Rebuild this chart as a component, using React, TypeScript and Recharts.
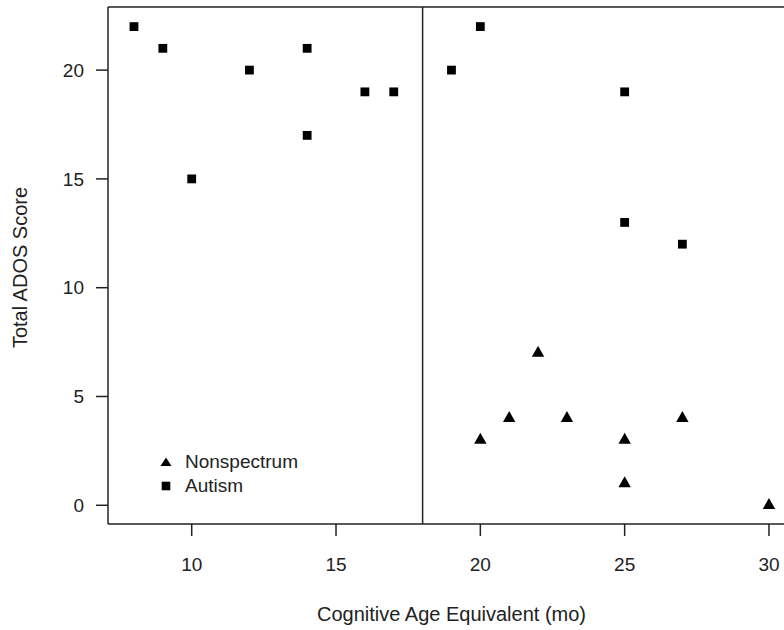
import React from 'react';
import {
  ScatterChart,
  Scatter,
  XAxis,
  YAxis,
  ReferenceLine,
  Legend,
  Label
} from 'recharts';

// Autism group
const autismAge = [8, 9, 10, 12, 14, 14, 16, 17, 19, 20, 25, 25, 27];
const autismScore = [22, 21, 15, 20, 21, 17, 19, 19, 20, 22, 19, 13, 12];

// Nonspectrum group
const nonAge = [20, 21, 22, 23, 25, 25, 27, 30];
const nonScore = [3, 4, 7, 4, 3, 1, 4, 0];

const xTicks = [10, 15, 20, 25, 30];
const yTicks = [0, 5, 10, 15, 20];
const X_DOMAIN: [number, number] = [7.1, 31.2];
const Y_DOMAIN: [number, number] = [-0.86, 22.9];
const CUTOFF = 18;

const autismData = autismAge.map((x, i) => ({ x, y: autismScore[i] }));
const nonData = nonAge.map((x, i) => ({ x, y: nonScore[i] }));

const FONT = '"Liberation Sans", Arial, Helvetica, sans-serif';
const INK = '#222';

const SquareDot = (props: any) => {
  const { cx, cy } = props;
  if (cx == null || cy == null) return null;
  return <rect x={cx - 4.4} y={cy - 4.4} width={8.8} height={8.8} fill="#000" />;
};

const TriangleDot = (props: any) => {
  const { cx, cy } = props;
  if (cx == null || cy == null) return null;
  const pts = `${cx - 6.2},${cy + 3.8} ${cx + 6.2},${cy + 3.8} ${cx},${cy - 7.2}`;
  return <polygon points={pts} fill="#000" />;
};

const LegendBox = () => (
  <div style={{ fontFamily: FONT, fontSize: 19, color: INK }}>
    <div style={{ display: 'flex', alignItems: 'center', height: 24 }}>
      <svg width={12} height={12}>
        <polygon points="0.5,10 11.5,10 6,1.5" fill="#000" />
      </svg>
      <span style={{ marginLeft: 13 }}>Nonspectrum</span>
    </div>
    <div style={{ display: 'flex', alignItems: 'center', height: 24 }}>
      <svg width={12} height={12}>
        <rect x={1.7} y={1.7} width={8.6} height={8.6} fill="#000" />
      </svg>
      <span style={{ marginLeft: 13 }}>Autism</span>
    </div>
  </div>
);

export default function App() {
  return (
    <div style={{ position: 'absolute', left: 0, top: 0, width: 784, height: 630, overflow: 'hidden', background: '#fff' }}>
      <ScatterChart width={810} height={630} margin={{ top: 7, right: 6.4, bottom: 0, left: 0 }}>
        <XAxis
          type="number"
          dataKey="x"
          domain={X_DOMAIN}
          ticks={xTicks}
          allowDataOverflow
          height={106}
          tickSize={12}
          tickMargin={22}
          axisLine={{ stroke: INK, strokeWidth: 1.5 }}
          tickLine={{ stroke: INK, strokeWidth: 1.5 }}
          tick={{ fill: INK, fontSize: 19, fontFamily: FONT }}
        >
          <Label
            content={({ viewBox }: any) => (
              <text
                x={viewBox.x + 343.5}
                y={viewBox.y + 97}
                textAnchor="middle"
                fill={INK}
                fontSize={20}
                fontFamily={FONT}
              >
                Cognitive Age Equivalent (mo)
              </text>
            )}
          />
        </XAxis>
        <YAxis
          type="number"
          dataKey="y"
          domain={Y_DOMAIN}
          ticks={yTicks}
          allowDataOverflow
          width={108}
          tickSize={12}
          tickMargin={12}
          axisLine={{ stroke: INK, strokeWidth: 1.5 }}
          tickLine={{ stroke: INK, strokeWidth: 1.5 }}
          tick={{ fill: INK, fontSize: 19, fontFamily: FONT }}
        >
          <Label
            content={({ viewBox }: any) => {
              const x = viewBox.x + 27;
              const y = viewBox.y + viewBox.height / 2 + 2;
              return (
                <text
                  x={x}
                  y={y}
                  transform={`rotate(-90, ${x}, ${y})`}
                  textAnchor="middle"
                  fill={INK}
                  fontSize={20}
                  fontFamily={FONT}
                >
                  Total ADOS Score
                </text>
              );
            }}
          />
        </YAxis>
        <ReferenceLine y={Y_DOMAIN[1]} stroke={INK} strokeWidth={1.5} />
        <ReferenceLine x={CUTOFF} stroke={INK} strokeWidth={1.5} />
        <Scatter name="Autism" data={autismData} shape={SquareDot} isAnimationActive={false} />
        <Scatter name="Nonspectrum" data={nonData} shape={TriangleDot} isAnimationActive={false} />
        <Legend
          layout="vertical"
          align="center"
          verticalAlign="middle"
          content={() => <LegendBox />}
          wrapperStyle={{ left: 160, top: 450, width: 160 }}
        />
      </ScatterChart>
    </div>
  );
}
